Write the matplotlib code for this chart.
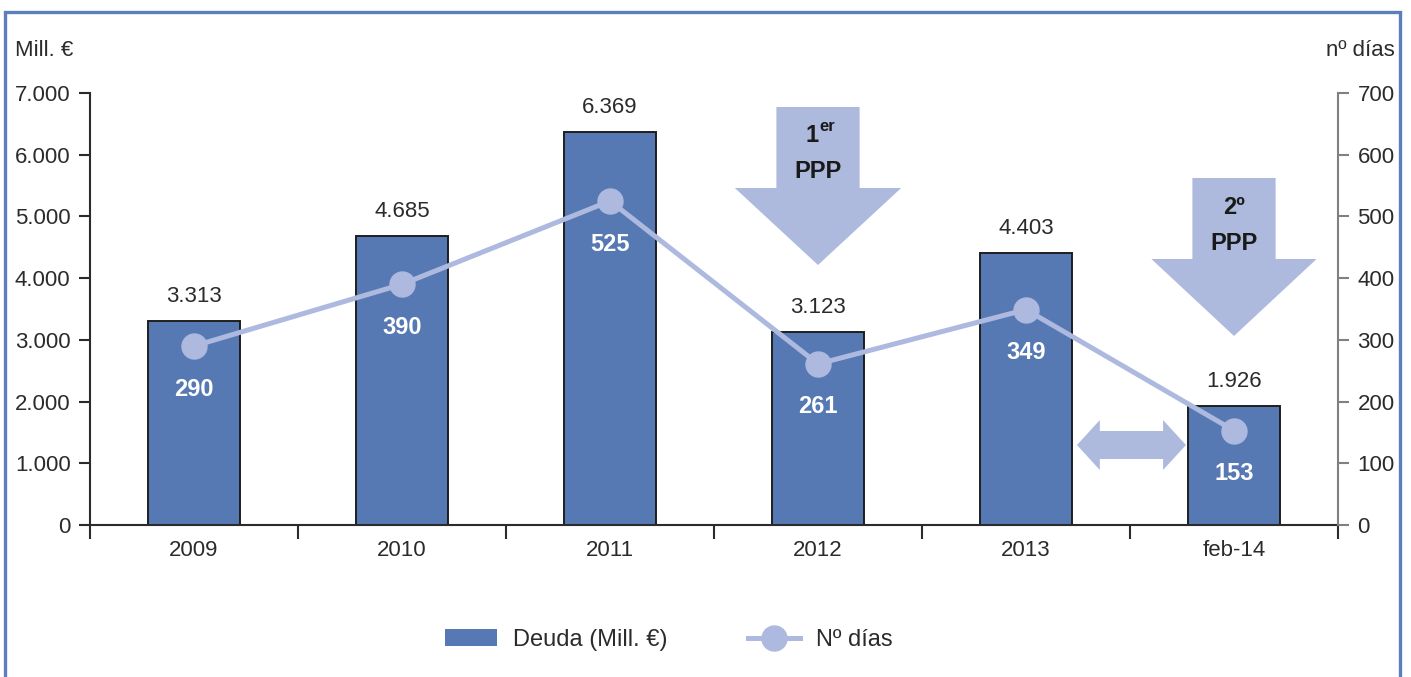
import matplotlib
matplotlib.use("Agg")
import matplotlib.pyplot as plt
from matplotlib.patches import Polygon, Rectangle, Patch
from matplotlib.lines import Line2D
from matplotlib.ticker import FuncFormatter, FixedLocator

plt.rcParams['font.family'] = ['Liberation Sans', 'DejaVu Sans']

categories = ['2009', '2010', '2011', '2012', '2013', 'feb-14']
deuda = [3313, 4685, 6369, 3123, 4403, 1926]
dias = [290, 390, 525, 261, 349, 153]
deuda_labels = ['3.313', '4.685', '6.369', '3.123', '4.403', '1.926']
left_ticks = [0, 1000, 2000, 3000, 4000, 5000, 6000, 7000]
right_ticks = [0, 100, 200, 300, 400, 500, 600, 700]

bar_color = '#5679b3'
line_color = '#adb9de'
arrow_color = '#adbade'
text_color = '#2b2b2b'
FS = 16

fig = plt.figure(figsize=(14.11, 6.77), dpi=100)
ax = fig.add_axes([90/1411, 1-525/677, (1338-90)/1411, (525-93)/677])
ax2 = ax.twinx()

x = list(range(len(categories)))
ax.bar(x, deuda, width=0.447, color=bar_color, edgecolor='#1e1e1e', linewidth=1.4, zorder=2)
ax.set_xlim(-0.5, 5.5)
ax.set_ylim(0, 7000)
ax.set_yticks(left_ticks)
ax.yaxis.set_major_formatter(FuncFormatter(lambda v, p: f"{int(v):,}".replace(',', '.')))
ax.xaxis.set_major_locator(FixedLocator([i - 0.5 for i in range(len(categories) + 1)]))
ax.xaxis.set_minor_locator(FixedLocator(x))
ax.set_xticklabels([''] * (len(categories) + 1))
ax.set_xticklabels(categories, minor=True)
ax.tick_params(axis='x', which='major', length=10, width=1.5, color='#2b2b2b', direction='out')
ax.tick_params(axis='x', which='minor', length=0, labelsize=FS, labelcolor=text_color, pad=11)
ax.tick_params(axis='y', length=8, width=1.5, color='#2b2b2b', labelsize=FS, labelcolor=text_color, pad=6)
for s in ['top', 'right']:
    ax.spines[s].set_visible(False)
ax.spines['left'].set_color('#2b2b2b')
ax.spines['left'].set_linewidth(1.5)
ax.spines['bottom'].set_color('#2b2b2b')
ax.spines['bottom'].set_linewidth(1.5)

for xi, v, lab in zip(x, deuda, deuda_labels):
    ax.annotate(lab, (xi, v), xytext=(0, 10), textcoords='offset points',
                ha='center', va='bottom', fontsize=FS, color=text_color)

ax2.plot(x, dias, color=line_color, linewidth=3.6, marker='o', markersize=18,
         markerfacecolor=line_color, markeredgecolor=line_color, zorder=3)
ax2.set_ylim(0, 700)
ax2.set_yticks(right_ticks)
ax2.tick_params(axis='y', length=8, width=1.5, color='#808080', labelsize=FS, labelcolor=text_color, pad=6)
for s in ['top', 'left', 'bottom']:
    ax2.spines[s].set_visible(False)
ax2.spines['right'].set_color('#808080')
ax2.spines['right'].set_linewidth(1.5)

for xi, v in zip(x, dias):
    ax2.annotate(str(v), (xi, v), xytext=(0, -31), textcoords='offset points',
                 ha='center', va='center', fontsize=17, color='white', fontweight='bold')

def down_arrow(cx, top, base, tip, sw, hw):
    return Polygon([(cx - sw, top), (cx + sw, top), (cx + sw, base), (cx + hw, base),
                    (cx, tip), (cx - hw, base), (cx - sw, base)], closed=True,
                   facecolor=arrow_color, edgecolor='none', zorder=4)

ax.add_patch(down_arrow(3.0, 6773, 5461, 4213, 0.2, 0.4))
ax.add_patch(down_arrow(5.0, 5623, 4310, 3063, 0.2, 0.397))

# double-headed horizontal arrow
x0, x1, yc, hl, sh, hh = 4.245, 4.769, 1296, 0.11, 227, 405
ax.add_patch(Polygon([(x0, yc), (x0 + hl, yc + hh), (x0 + hl, yc + sh), (x1 - hl, yc + sh),
                      (x1 - hl, yc + hh), (x1, yc), (x1 - hl, yc - hh), (x1 - hl, yc - sh),
                      (x0 + hl, yc - sh), (x0 + hl, yc - hh)], closed=True,
                     facecolor=arrow_color, edgecolor='none', zorder=4))

ax.text(3.005, 6319, '1', ha='right', va='center', fontsize=17, color='#1a1a1a',
        fontweight='bold', zorder=5)
ax.text(3.005, 6460, 'er', ha='left', va='center', fontsize=12, color='#1a1a1a',
        fontweight='bold', zorder=5)
ax.text(3.0, 5720, 'PPP', ha='center', va='center', fontsize=17, color='#1a1a1a',
        fontweight='bold', zorder=5)
ax.text(5.0, 5137, '2º', ha='center', va='center', fontsize=17, color='#1a1a1a',
        fontweight='bold', zorder=5)
ax.text(5.0, 4569, 'PPP', ha='center', va='center', fontsize=17, color='#1a1a1a',
        fontweight='bold', zorder=5)

fig.text(15/1411, 1 - 50/677, 'Mill. €', ha='left', va='center', fontsize=FS, color=text_color)
fig.text(1395/1411, 1 - 50/677, 'nº días', ha='right', va='center', fontsize=FS, color=text_color)

handles = [Patch(facecolor=bar_color, edgecolor='none'),
           Line2D([], [], color=line_color, linewidth=3.6, marker='o', markersize=18,
                  markerfacecolor=line_color, markeredgecolor=line_color)]
fig.legend(handles, ['Deuda (Mill. €)', 'Nº días'], loc='center', bbox_to_anchor=(0.474, 1 - 640/677),
           ncol=2, frameon=False, fontsize=17, handlelength=2.2, handletextpad=0.7,
           columnspacing=3.4, labelcolor=text_color)

fig.add_artist(Rectangle((5/1411, -0.05), (1400-5)/1411, 0.05 + 1 - 12/677, transform=fig.transFigure,
                         fill=False, edgecolor='#5b7fbb', linewidth=2.4))

fig.savefig('out.png', dpi=100)
